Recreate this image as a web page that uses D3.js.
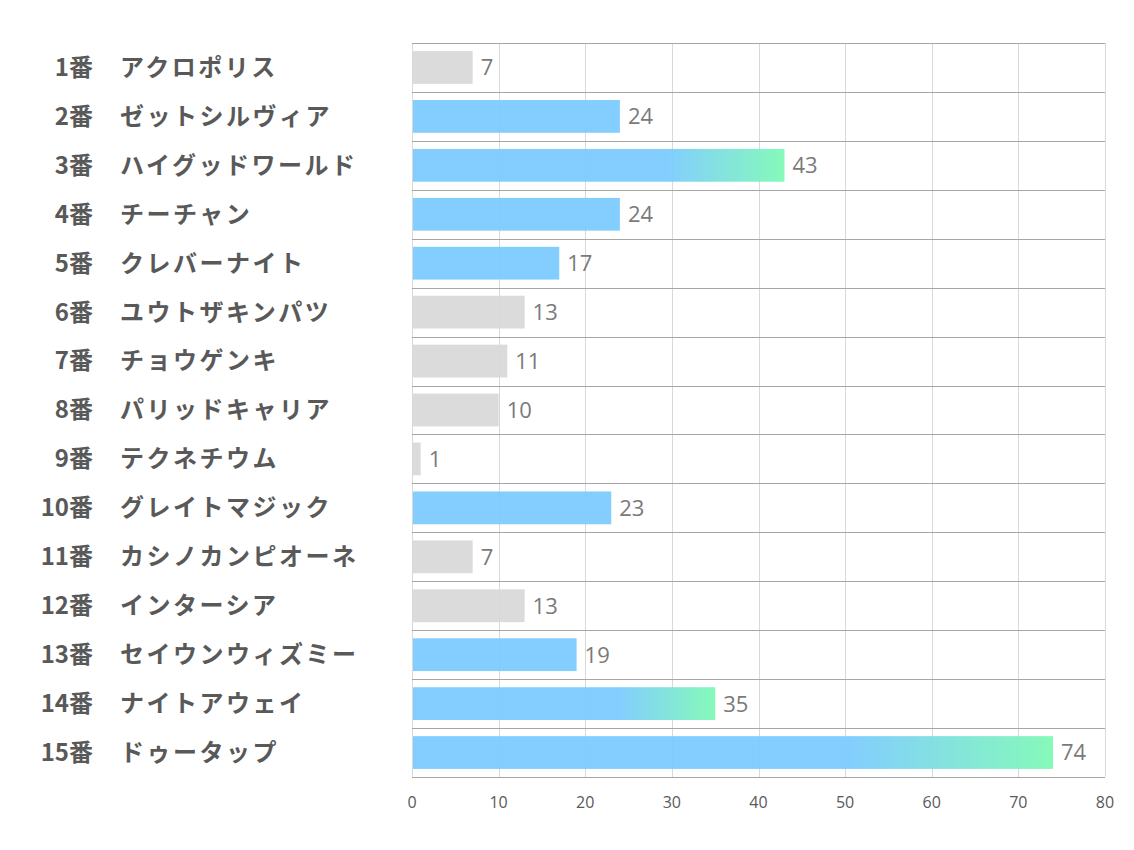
<!DOCTYPE html>
<html>
<head>
<meta charset="utf-8">
<script src="https://cdn.jsdelivr.net/npm/d3@7"></script>
<style>
  body { margin: 0; background: #fff; }
  .num, .name { font-family: "Noto Sans CJK JP", sans-serif; font-weight: bold; font-size: 24px; fill: #595959; }
  .name { letter-spacing: 2.5px; }
  .val { font-family: "Open Sans", "Noto Sans", sans-serif; font-size: 22px; fill: #7a7a7a; }
  .tick-label { font-family: "Open Sans", "Noto Sans", sans-serif; font-size: 16px; fill: #595959; }
</style>
</head>
<body>
<div id="chart"></div>
<script>
// horse numbers, names and values
const numbers = ["1番", "2番", "3番", "4番", "5番", "6番", "7番", "8番", "9番", "10番", "11番", "12番", "13番", "14番", "15番"];
const names = ["アクロポリス", "ゼットシルヴィア", "ハイグッドワールド", "チーチャン", "クレバーナイト", "ユウトザキンパツ", "チョウゲンキ", "パリッドキャリア", "テクネチウム", "グレイトマジック", "カシノカンピオーネ", "インターシア", "セイウンウィズミー", "ナイトアウェイ", "ドゥータップ"];
const values = [7, 24, 43, 24, 17, 13, 11, 10, 1, 23, 7, 13, 19, 35, 74];
const xTicks = [0, 10, 20, 30, 40, 50, 60, 70, 80];

const W = 1134, H = 850;
const margin = {top: 43, right: 29, bottom: 73, left: 412};
const width = W - margin.left - margin.right;
const height = H - margin.top - margin.bottom;

const data = numbers.map((n, i) => ({num: n, name: names[i], value: values[i]}));

// rank -> colour group: top 3 gradient, next 5 blue, rest gray
const sorted = values.slice().map((v, i) => ({v, i})).sort((a, b) => b.v - a.v);
const rank = {};
sorted.forEach((d, r) => { rank[d.i] = r; });

const svg = d3.select("#chart").append("svg")
    .attr("width", W)
    .attr("height", H);

const defs = svg.append("defs");
const grad = defs.append("linearGradient")
    .attr("id", "topGrad")
    .attr("x1", "0").attr("x2", "1").attr("y1", "0").attr("y2", "0");
grad.append("stop").attr("offset", "0.68").attr("stop-color", "#7ccbff");
grad.append("stop").attr("offset", "1").attr("stop-color", "#7ff9b6");

const g = svg.append("g").attr("transform", `translate(${margin.left},${margin.top})`);

const x = d3.scaleLinear().domain([0, 80]).range([0, width]);
const y = d3.scaleBand()
    .domain(d3.range(data.length))
    .range([0, height])
    .paddingInner(0.33)
    .paddingOuter(0.165);

// vertical gridlines
g.selectAll(".vgrid")
    .data(xTicks)
    .enter().append("line")
    .attr("class", "vgrid")
    .attr("x1", d => Math.round(x(d)) + 0.5)
    .attr("x2", d => Math.round(x(d)) + 0.5)
    .attr("y1", 0)
    .attr("y2", height)
    .attr("stroke", "#d9d9d9")
    .attr("stroke-width", 1);

// row separators
const step = y.step();
g.selectAll(".hgrid")
    .data(d3.range(data.length + 1))
    .enter().append("line")
    .attr("class", "hgrid")
    .attr("x1", 0)
    .attr("x2", width)
    .attr("y1", d => Math.round(d * step) + 0.5)
    .attr("y2", d => Math.round(d * step) + 0.5)
    .attr("stroke", "#a6a6a6")
    .attr("stroke-width", 1);

// bars
g.selectAll(".bar")
    .data(data)
    .enter().append("rect")
    .attr("class", "bar")
    .attr("x", x(0) + 1)
    .attr("y", (d, i) => y(i))
    .attr("width", d => x(d.value) - x(0) - 1)
    .attr("height", y.bandwidth())
    .attr("fill", (d, i) => rank[i] < 3 ? "url(#topGrad)" : (rank[i] < 8 ? "#7ccbff" : "#d9d9d9"))
    .attr("fill-opacity", 0.95);

// value labels
g.selectAll(".val")
    .data(data)
    .enter().append("text")
    .attr("class", "val")
    .attr("x", d => x(d.value) + 8)
    .attr("y", (d, i) => y(i) + y.bandwidth() / 2)
    .attr("dy", "0.36em")
    .text(d => d.value);

// x axis labels
g.selectAll(".tick-label")
    .data(xTicks)
    .enter().append("text")
    .attr("class", "tick-label")
    .attr("x", d => x(d))
    .attr("y", height + 25)
    .attr("dy", "0.35em")
    .attr("text-anchor", "middle")
    .text(d => d);

// category labels
const labels = svg.append("g");
labels.selectAll(".num")
    .data(data)
    .enter().append("text")
    .attr("class", "num")
    .attr("x", 93)
    .attr("y", (d, i) => margin.top + y(i) + y.bandwidth() / 2)
    .attr("dy", "0.35em")
    .attr("text-anchor", "end")
    .text(d => d.num);

labels.selectAll(".name")
    .data(data)
    .enter().append("text")
    .attr("class", "name")
    .attr("x", 120)
    .attr("y", (d, i) => margin.top + y(i) + y.bandwidth() / 2)
    .attr("dy", "0.35em")
    .text(d => d.name);
</script>
</body>
</html>
